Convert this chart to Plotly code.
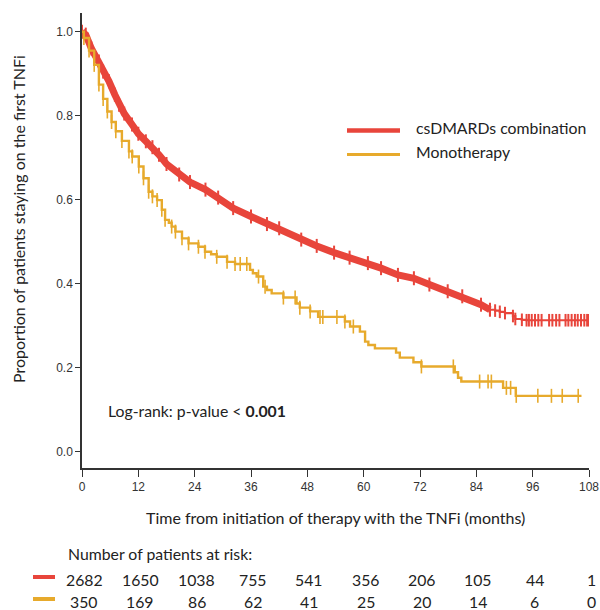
import plotly.graph_objects as go

# ---------------- data ----------------
months_ticks = [0, 12, 24, 36, 48, 60, 72, 84, 96, 108]
y_ticks = [0.0, 0.2, 0.4, 0.6, 0.8, 1.0]

# csDMARDs combination KM curve (dense censoring -> thick band)
red_t = [0, 0.8, 2, 3.6, 4.5, 5.75, 7, 7.9, 9, 10.65, 12, 13.6, 15, 16.4, 18, 20.7,
         23, 26.3, 29, 32.2, 36, 39.4, 42, 46.7, 50, 53.7, 57, 60.9, 63.7, 67.3,
         70.7, 74, 77.9, 81, 85, 86.9]
red_s = [1.0, 0.993, 0.96, 0.929, 0.905, 0.882, 0.85, 0.826, 0.805, 0.779, 0.757, 0.739,
         0.725, 0.707, 0.685, 0.66, 0.642, 0.624, 0.605, 0.58, 0.56, 0.542, 0.532, 0.505,
         0.49, 0.474, 0.462, 0.449, 0.437, 0.421, 0.413, 0.398, 0.382, 0.37, 0.35, 0.338]
# tail of the red curve with sparse censor marks
red_tail_t = [86.9, 88, 89, 90.1, 91.8, 92.3, 93.7, 94.7, 95.2, 95.8, 96.5, 97.2, 97.9,
              99.5, 100.2, 101, 101.7, 103, 103.6, 104.3, 105, 105.6, 106.3, 107, 107.6, 108]
red_tail_s = [0.338, 0.336, 0.333, 0.33, 0.323, 0.316, 0.314, 0.313, 0.313, 0.313, 0.313,
              0.313, 0.313, 0.313, 0.313, 0.313, 0.313, 0.313, 0.313, 0.313, 0.313, 0.313,
              0.313, 0.313, 0.313, 0.313]

# Monotherapy KM step curve
or_t = [0, 0.4, 1.5, 2.6, 3.6, 4.5, 5.4, 6.3, 7.2, 8.5, 10, 10.7, 12.1, 13.1, 14.2, 15, 16,
        17, 17.7, 18.5, 19.1, 19.9, 21.3, 22.7, 24.8, 26.2, 27.5, 28.7, 30.9, 32.6, 35.8,
        36.4, 37.2, 38.6, 39.4, 40.4, 42.9, 45.7, 46.4, 48.6, 50.3, 56, 57.1, 59.2, 60.3,
        61, 62.4, 66.9, 67.7, 70.6, 72.3, 79.4, 80.1, 80.8, 89.7, 92.4, 106.4]
or_s = [1.0, 0.985, 0.955, 0.921, 0.874, 0.84, 0.81, 0.785, 0.763, 0.74, 0.715, 0.703,
        0.679, 0.651, 0.619, 0.608, 0.599, 0.576, 0.552, 0.545, 0.536, 0.524, 0.508, 0.496,
        0.488, 0.476, 0.47, 0.464, 0.452, 0.447, 0.433, 0.425, 0.417, 0.393, 0.385, 0.377,
        0.367, 0.353, 0.343, 0.334, 0.321, 0.31, 0.298, 0.286, 0.262, 0.254, 0.246, 0.236,
        0.224, 0.213, 0.203, 0.189, 0.176, 0.167, 0.152, 0.133, 0.133]
# Monotherapy censor marks
or_cens_t = [0.4, 1.5, 2.6, 3.6, 4.5, 5.4, 6.3, 7.2, 8.5, 10, 10.7, 12.1, 13.1, 14.2, 15, 16,
             17, 17.7, 19.1, 19.9, 21.3, 22.7, 24.8, 26.2, 28.7, 30.9, 32.6, 33.7, 35.1, 37.6,
             39, 42.9, 45.4, 46.4, 48.6, 50.7, 51.3, 54.3, 56, 57.8, 72.3, 79.1, 84.7, 86.5,
             87.2, 90.4, 91.3, 92.5, 97.1, 100, 102.3, 105.7]
or_cens_s = [0.985, 0.955, 0.921, 0.874, 0.84, 0.81, 0.785, 0.763, 0.74, 0.715, 0.703, 0.679,
             0.651, 0.619, 0.608, 0.599, 0.576, 0.552, 0.536, 0.524, 0.508, 0.496, 0.488,
             0.476, 0.464, 0.452, 0.447, 0.447, 0.447, 0.417, 0.393, 0.367, 0.367, 0.343,
             0.334, 0.321, 0.321, 0.321, 0.31, 0.298, 0.203, 0.203, 0.167, 0.167, 0.167,
             0.152, 0.152, 0.133, 0.133, 0.133, 0.133, 0.133]

series_names = ["csDMARDs combination", "Monotherapy"]
risk_red = [2682, 1650, 1038, 755, 541, 356, 206, 105, 44, 1]
risk_orange = [350, 169, 86, 62, 41, 25, 20, 14, 6, 0]

RED = "#E8453B"
ORANGE = "#E7AA2C"
AX = "#333333"
TXT = "#222222"
FONT = "Lato"
FS = 15.8

# ---------------- geometry helpers (pixel -> paper) ----------------
W, H = 600, 610
L, R, T, B = 82, 11, 13, 142
PW, PH = W - L - R, H - T - B


def px(x):
    return (x - L) / PW


def py(y):
    return (H - B - y) / PH


fig = go.Figure()

# red thick band (dense censoring)
fig.add_trace(go.Scatter(x=red_t, y=red_s, mode="lines+markers",
                         line=dict(color=RED, width=7),
                         marker=dict(symbol="line-ns", size=10,
                                     line=dict(color=RED, width=2)),
                         showlegend=False, hoverinfo="skip"))
# red tail
fig.add_trace(go.Scatter(x=red_tail_t, y=red_tail_s, mode="lines+markers",
                         line=dict(color=RED, width=2.2, shape="hv"),
                         marker=dict(symbol="line-ns", size=9,
                                     line=dict(color=RED, width=2)),
                         showlegend=False, hoverinfo="skip"))
# orange step
fig.add_trace(go.Scatter(x=or_t, y=or_s, mode="lines",
                         line=dict(color=ORANGE, width=2.4, shape="hv"),
                         showlegend=False, hoverinfo="skip"))
fig.add_trace(go.Scatter(x=or_cens_t, y=or_cens_s, mode="markers",
                         marker=dict(symbol="line-ns", size=10,
                                     line=dict(color=ORANGE, width=1.6)),
                         showlegend=False, hoverinfo="skip"))

shapes = []
annotations = []

# legend
for i, (name, col, lw) in enumerate([(series_names[0], RED, 4.5), (series_names[1], ORANGE, 3.2)]):
    yy = 130.5 + i * 24
    shapes.append(dict(type="line", xref="paper", yref="paper",
                       x0=px(347), x1=px(400), y0=py(yy), y1=py(yy),
                       line=dict(color=col, width=lw)))
    annotations.append(dict(text=name, xref="paper", yref="paper",
                            x=px(414), y=py(yy - 3), xanchor="left", yanchor="middle",
                            showarrow=False, font=dict(family=FONT, size=FS, color=TXT)))

# log-rank text
annotations.append(dict(text="Log-rank: p-value < <b>0.001</b>", xref="paper", yref="paper",
                        x=px(106), y=py(410), xanchor="left", yanchor="middle",
                        showarrow=False, font=dict(family=FONT, size=FS, color=TXT)))

# axis titles
annotations.append(dict(text="Time from initiation of therapy with the TNFi (months)",
                        xref="paper", yref="paper", x=px(335), y=py(517),
                        xanchor="center", yanchor="middle", showarrow=False,
                        font=dict(family=FONT, size=16, color=TXT)))
annotations.append(dict(text="Proportion of patients staying on the first TNFi",
                        xref="paper", yref="paper", x=px(19), y=py(219),
                        xanchor="center", yanchor="middle", showarrow=False, textangle=-90,
                        font=dict(family=FONT, size=16, color=TXT)))

# risk table
annotations.append(dict(text="Number of patients at risk:", xref="paper", yref="paper",
                        x=px(66), y=py(553), xanchor="left", yanchor="middle",
                        showarrow=False, font=dict(family=FONT, size=FS, color=TXT)))
for row, (vals, col, yy) in enumerate([(risk_red, RED, 579), (risk_orange, ORANGE, 601)]):
    shapes.append(dict(type="line", xref="paper", yref="paper",
                       x0=px(33), x1=px(55), y0=py(yy - 2), y1=py(yy - 2),
                       line=dict(color=col, width=4)))
    for m, v in zip(months_ticks, vals):
        annotations.append(dict(text=str(v), xref="x", yref="paper", x=m, xshift=2, y=py(yy),
                                xanchor="center", yanchor="middle", showarrow=False,
                                font=dict(family=FONT, size=FS, color=TXT)))

fig.update_layout(
    width=W, height=H,
    margin=dict(l=L, r=R, t=T, b=B, autoexpand=False),
    paper_bgcolor="white", plot_bgcolor="white",
    shapes=shapes, annotations=annotations,
    xaxis=dict(range=[0, 108], tickvals=months_ticks, ticktext=[str(m) for m in months_ticks],
               showgrid=False, zeroline=False, showline=True, linecolor=AX, linewidth=1.5,
               ticks="outside", ticklen=7, tickwidth=1.2, tickcolor=AX, automargin=False,
               tickfont=dict(family="Liberation Sans", size=12, color="#333333")),
    yaxis=dict(range=[-0.0388, 1.0445], tickvals=y_ticks, tickformat=".1f",
               showgrid=False, zeroline=False, showline=True, linecolor=AX, linewidth=1.5,
               ticks="outside", ticklen=5, tickwidth=1.2, tickcolor=AX, automargin=False,
               tickfont=dict(family="Liberation Sans", size=12, color="#333333")),
)

fig.write_html("out.html")
